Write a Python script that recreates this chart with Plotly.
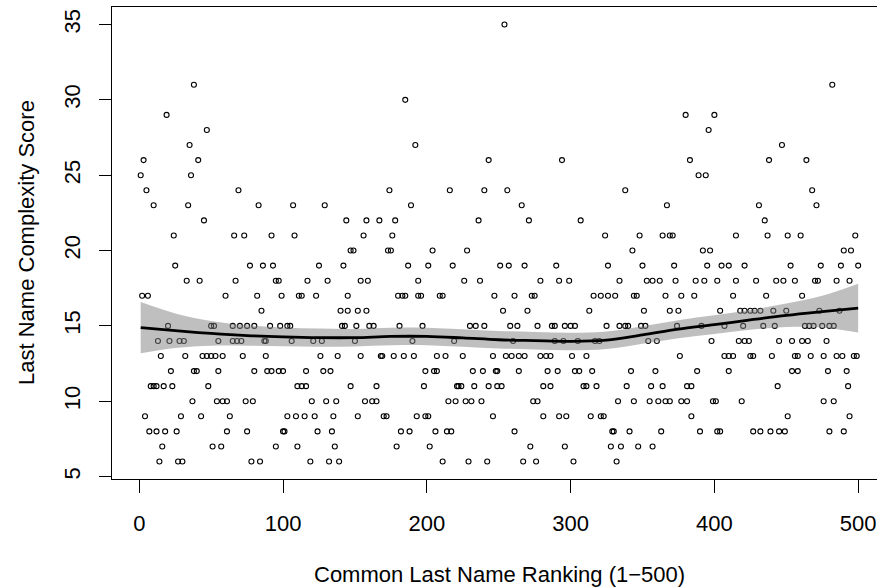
import plotly.graph_objects as go

# ---- data: ranks (1-500) that have each complexity score ----
score_06 = [14, 27, 30, 78, 84, 119, 132, 139, 211, 229, 242, 267, 276, 302, 332]
score_07 = [16, 51, 57, 95, 110, 136, 179, 202, 272, 296, 328, 335, 347, 357]
score_08 = [7, 12, 18, 26, 61, 75, 100, 101, 124, 134, 182, 188, 206, 214, 217, 261,
            329, 330, 341, 363, 390, 402, 404, 427, 432, 439, 445, 449, 480, 490]
score_09 = [4, 29, 43, 63, 103, 109, 115, 122, 135, 152, 170, 172, 193, 199, 201, 246,
            281, 292, 297, 314, 321, 323, 384, 451, 494]
score_10 = [37, 54, 58, 61, 74, 79, 120, 130, 137, 157, 162, 165, 215, 220, 227, 231,
            238, 274, 277, 333, 344, 355, 361, 366, 369, 377, 381, 399, 401, 419, 476, 483]
score_11 = [8, 10, 12, 17, 23, 48, 110, 113, 116, 147, 165, 198, 221, 222, 224, 233,
            243, 249, 252, 281, 286, 309, 311, 318, 339, 356, 364, 381, 384, 444, 493]
score_12 = [22, 38, 40, 55, 80, 89, 92, 97, 100, 116, 128, 133, 199, 205, 207, 232,
            239, 248, 249, 264, 284, 291, 303, 306, 315, 342, 359, 388, 410, 454, 458,
            479, 492]
score_13 = [15, 32, 44, 47, 50, 53, 58, 72, 88, 126, 138, 154, 168, 169, 177, 184, 191,
            207, 213, 225, 246, 255, 259, 264, 268, 279, 283, 286, 301, 311, 376, 407,
            410, 413, 425, 427, 440, 456, 458, 467, 476, 485, 489, 497, 499]
score_14 = [13, 21, 28, 31, 55, 65, 68, 71, 87, 88, 106, 121, 127, 150, 190, 219, 260,
            289, 295, 305, 317, 320, 354, 360, 398, 417, 421, 424, 445, 454, 461, 465, 478]
score_15 = [20, 50, 52, 65, 70, 75, 80, 91, 98, 103, 105, 141, 143, 151, 160, 163, 181,
            197, 230, 234, 240, 258, 263, 277, 287, 289, 296, 300, 303, 325, 334, 338,
            340, 349, 352, 374, 391, 407, 420, 434, 442, 463, 466, 469, 475, 480, 483]
score_16 = [85, 140, 145, 152, 158, 253, 270, 313, 351, 369, 375, 404, 418, 421, 425,
            428, 432, 441, 450, 473, 487]
score_17 = [2, 6, 60, 82, 99, 111, 113, 123, 145, 180, 183, 185, 194, 196, 209, 211, 247,
            261, 273, 275, 316, 321, 326, 331, 344, 346, 366, 377, 386, 413, 436, 461]
score_18 = [33, 42, 67, 95, 97, 117, 131, 154, 159, 194, 226, 237, 279, 292, 299, 334,
            353, 357, 362, 373, 387, 393, 402, 415, 429, 443, 448, 456, 470, 472, 485, 494]
score_19 = [25, 77, 86, 93, 125, 142, 187, 201, 218, 251, 257, 268, 290, 326, 350, 372,
            395, 405, 410, 421, 453, 474, 488, 500]
score_20 = [147, 149, 173, 175, 204, 228, 343, 392, 397, 490, 495]
score_21 = [24, 66, 73, 92, 108, 156, 176, 324, 348, 364, 369, 371, 415, 437, 451, 460, 498]
score_22 = [45, 144, 158, 167, 178, 236, 271, 307, 435]
score_23 = [10, 34, 83, 107, 129, 189, 266, 367, 431, 471]
score_24 = [5, 69, 174, 216, 240, 256, 338, 468]
score_25 = [1, 36, 389, 394]
score_26 = [3, 41, 243, 294, 383, 438, 464]
score_27 = [35, 192, 447]
score_28 = [47, 396]
score_29 = [19, 380, 400]
score_30 = [185]
score_31 = [38, 482]
score_35 = [254]

# ---- loess fit (fit and half-width of the grey band) ----
smooth_rank = [1, 25, 50, 75, 100, 125, 150, 175, 200, 225, 250, 275, 300, 325, 350,
               375, 400, 425, 450, 475, 500]
smooth_fit = [14.88, 14.68, 14.50, 14.36, 14.27, 14.22, 14.22, 14.30, 14.30, 14.20,
              14.08, 14.02, 13.97, 14.05, 14.40, 14.78, 15.08, 15.40, 15.70, 15.95, 16.18]
smooth_halfwidth = [1.70, 1.15, 0.82, 0.68, 0.62, 0.60, 0.58, 0.58, 0.58, 0.58, 0.58,
                    0.58, 0.58, 0.58, 0.58, 0.60, 0.62, 0.66, 0.78, 1.05, 1.62]

x_ticks = [0, 100, 200, 300, 400, 500]
y_ticks = [5, 10, 15, 20, 25, 30, 35]

rows = [(6, score_06), (7, score_07), (8, score_08), (9, score_09), (10, score_10),
        (11, score_11), (12, score_12), (13, score_13), (14, score_14), (15, score_15),
        (16, score_16), (17, score_17), (18, score_18), (19, score_19), (20, score_20),
        (21, score_21), (22, score_22), (23, score_23), (24, score_24), (25, score_25),
        (26, score_26), (27, score_27), (28, score_28), (29, score_29), (30, score_30),
        (31, score_31), (35, score_35)]
px, py = [], []
for s, ranks in rows:
    for r in ranks:
        px.append(r)
        py.append(s)

lower = [f - h for f, h in zip(smooth_fit, smooth_halfwidth)]
upper = [f + h for f, h in zip(smooth_fit, smooth_halfwidth)]

FONT = "Liberation Sans, Arial, Helvetica, sans-serif"

fig = go.Figure()
fig.add_trace(go.Scatter(
    x=px, y=py, mode="markers",
    marker=dict(symbol="circle-open", size=5, color="black", line=dict(width=1.1, color="black")),
    hoverinfo="x+y", showlegend=False))
fig.add_trace(go.Scatter(
    x=smooth_rank, y=lower, mode="lines", line=dict(width=0, shape="spline", color="rgba(0,0,0,0)"),
    hoverinfo="skip", showlegend=False))
fig.add_trace(go.Scatter(
    x=smooth_rank, y=upper, mode="lines", line=dict(width=0, shape="spline", color="rgba(0,0,0,0)"),
    fill="tonexty", fillcolor="rgba(128,128,128,0.5)", hoverinfo="skip", showlegend=False))
fig.add_trace(go.Scatter(
    x=smooth_rank, y=smooth_fit, mode="lines", line=dict(width=2.8, color="black", shape="spline"),
    hoverinfo="skip", showlegend=False))

fig.update_layout(
    width=877, height=588,
    margin=dict(l=112, r=0, t=7, b=109, pad=0),
    paper_bgcolor="white", plot_bgcolor="white",
    font=dict(family=FONT, size=22, color="black"),
    showlegend=False,
    xaxis=dict(range=[-18.96, 513.1], tickvals=x_ticks, ticks="outside", ticklen=13,
               tickwidth=1.3, tickcolor="black", showline=True, linecolor="black",
               linewidth=1.3, mirror=True, showgrid=False, zeroline=False,
               automargin=False, ticklabelstandoff=11,
               tickfont=dict(family=FONT, size=22, color="black")),
    yaxis=dict(range=[4.84, 36.16], tickvals=y_ticks, ticks="outside", ticklen=12,
               tickwidth=1.3, tickcolor="black", showline=True, linecolor="black",
               linewidth=1.3, mirror=False, showgrid=False, zeroline=False,
               automargin=False, tickangle=-90, ticklabelstandoff=10,
               tickfont=dict(family=FONT, size=22, color="black")),
    annotations=[
        dict(text="Common Last Name Ranking (1\u2212500)", xref="x", yref="paper",
             x=250.3, y=-0.2013, xanchor="center", yanchor="middle", showarrow=False,
             font=dict(family=FONT, size=22, color="black")),
        dict(text="Last Name Complexity Score", xref="paper", yref="paper",
             x=(26 - 112) / 765, y=0.5, xanchor="center", yanchor="middle",
             textangle=-90, showarrow=False,
             font=dict(family=FONT, size=22, color="black")),
    ],
)

fig.write_html("out.html")
